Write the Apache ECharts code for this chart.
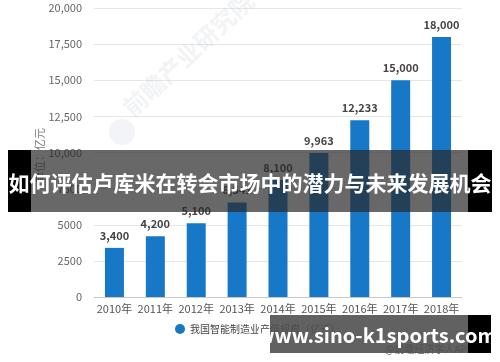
<!DOCTYPE html>
<html><head><meta charset="utf-8">
<script src="https://cdn.jsdelivr.net/npm/echarts@6/dist/echarts.min.js"></script>
<style>html,body{margin:0;padding:0;background:#fff}#c{width:500px;height:362px}</style>
</head><body><div id="c"></div>
<script>
var categories = ['2010年','2011年','2012年','2013年','2014年','2015年','2016年','2017年','2018年'];
var values = [3400, 4200, 5100, 6541, 8100, 9963, 12233, 15000, 18000];
var yTickLabels = {0:'0',2500:'2500',5000:'5000',7500:'7500',10000:'10,000',12500:'12,500',15000:'15,000',17500:'17,500',20000:'20,000'};
var seriesName = '我国智能制造业产值规模（亿元）';
var unitLabel = '单位：亿元';
var title = '如何评估卢库米在转会市场中的潜力与未来发展机会';
var siteText = 'www.sino-k1sports.com';
var sourceText = '@前瞻经济学人APP';
var watermarkText = '前瞻产业研究院';

var font = '"Noto Sans CJK SC", "Noto Sans", sans-serif';
var chart = echarts.init(document.getElementById('c'), null, {renderer:'canvas'});
chart.setOption({
  animation:false,
  textStyle:{fontFamily:font},
  grid:{left:94, right:38, top:8, bottom:65},
  legend:{data:[seriesName], left:170, top:319, icon:'circle', itemWidth:10, itemHeight:10, itemGap:6,
    textStyle:{fontSize:10, color:'#444', fontFamily:font}},
  xAxis:{type:'category', data:categories,
    axisLine:{lineStyle:{color:'#c8c8c8'}}, axisTick:{show:false},
    axisLabel:{color:'#555', fontSize:11, margin:6, interval:0, fontFamily:font}},
  yAxis:{type:'value', min:0, max:20000, interval:2500,
    axisLine:{show:false}, axisTick:{show:false},
    splitLine:{lineStyle:{color:'#e6e6e6'}},
    axisLabel:{color:'#666', fontSize:11, margin:12, fontFamily:font,
      formatter:function(v){return yTickLabels[v]!==undefined?yTickLabels[v]:String(v);}}},
  series:[{name:seriesName, type:'bar', data:values, barWidth:19,
    itemStyle:{color:'#1878c8'},
    label:{show:true, position:'top', distance:7, color:'#444', fontSize:11, fontWeight:'bold', fontFamily:font,
      formatter:function(p){return p.value.toLocaleString('en-US');}}}],
  graphic:[
    {type:'text', left:34, top:128, rotation:Math.PI/2, style:{text:unitLabel, fill:'#777', font:'11px '+font}, z:1},
    {type:'text', x:135, y:120, rotation:0.75, style:{text:watermarkText, fill:'rgba(170,180,195,0.16)', font:'bold 24px '+font, textVerticalAlign:'bottom'}, z:1},
    {type:'circle', shape:{cx:122, cy:132, r:13}, style:{fill:'rgba(170,180,195,0.14)'}, z:1},
    {type:'text', left:385, top:344, style:{text:sourceText, fill:'#555', font:'10px '+font}, z:5},
    {type:'rect', shape:{x:8, y:150, width:484, height:62}, style:{fill:'rgba(40,40,40,0.7)'}, z:10},
    {type:'rect', shape:{x:8, y:150, width:23, height:62}, style:{fill:'#000'}, z:10},
    {type:'rect', shape:{x:468, y:150, width:24, height:62}, style:{fill:'#000'}, z:10},
    {type:'text', x:250, y:183, style:{text:title, fill:'#fff', font:'bold 21px '+font, textAlign:'center', textVerticalAlign:'middle'}, z:11},
    {type:'rect', shape:{x:270, y:315, width:198, height:38}, style:{fill:'rgba(80,80,80,0.9)'}, z:10},
    {type:'rect', shape:{x:468, y:315, width:23, height:38}, style:{fill:'#000'}, z:10},
    {type:'text', x:377, y:335, style:{text:siteText, fill:'#fff', font:'bold 20px '+font, textAlign:'center', textVerticalAlign:'middle'}, z:11}
  ]
});
</script></body></html>
